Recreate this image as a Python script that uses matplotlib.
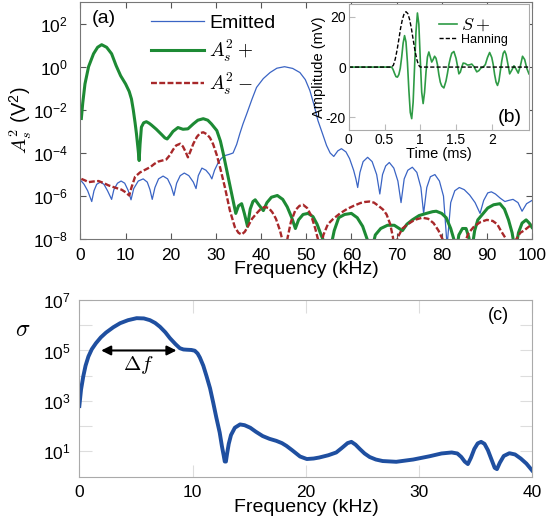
import numpy as np
import matplotlib
matplotlib.use('Agg')
import matplotlib.pyplot as plt
from matplotlib.ticker import NullLocator

plt.rcParams['font.family'] = ['Liberation Sans', 'DejaVu Sans']
plt.rcParams['mathtext.fontset'] = 'cm'
plt.rcParams['axes.unicode_minus'] = False

# ---- panel (a): spectra, values as log10(V^2) ----
emit_f = [0.2, 0.8, 1.6, 2.5, 3.0, 3.6, 4.4, 5.2, 6.0, 6.9, 7.4, 8.2, 9.0, 9.8, 10.6, 11.2,
          11.8, 12.8, 13.9, 14.8, 15.4, 15.9, 16.5, 17.3, 18.3, 19.3, 20.1, 20.7, 21.3, 22.1,
          23.0, 24.0, 25.0, 25.6, 26.1, 26.9, 27.8, 28.6, 29.1, 29.7, 30.5, 31.2, 32.0, 33.0,
          33.8, 34.6, 35.3, 36.0, 36.8, 38.0, 39.0, 40.5, 42.0, 43.5, 45.2, 47.0, 48.6, 49.8,
          50.8, 51.7, 52.6, 53.6, 54.5, 55.3, 56.1, 57.0, 57.8, 58.8, 59.6, 60.5, 61.0, 61.4,
          61.9, 62.6, 63.6, 64.6, 65.6, 66.3, 66.9, 67.6, 68.4, 69.4, 70.3, 71.0, 71.7, 72.5,
          73.5, 74.5, 75.4, 76.0, 76.7, 77.5, 78.5, 79.5, 80.4, 81.2, 82.0, 82.9, 83.9, 85.0,
          86.2, 87.4, 88.5, 89.3, 90.2, 91.0, 91.9, 93.0, 94.0, 94.8, 95.8, 96.9, 97.8, 98.8,
          100.0]
emit_lg = [-5.3, -5.45, -5.75, -6.25, -5.75, -5.45, -5.35, -5.45, -5.75, -6.15, -5.7, -5.4, -5.3, -5.4, -5.75, -6.17,
           -5.65, -5.3, -5.2, -5.35, -5.7, -6.15, -5.6, -5.2, -5.07, -5.2, -5.55, -5.97, -5.4, -5.05,
           -4.93, -5.05, -5.35, -5.65, -5.05, -4.7, -4.8, -5.0, -5.2, -4.8, -4.45, -4.25, -4.12, -4.06,
           -4.0, -3.6, -3.1, -2.65, -2.2, -1.5, -0.96, -0.55, -0.27, -0.07, 0.0, -0.08, -0.27, -0.6,
           -1.1, -1.75, -2.5, -3.1, -3.65, -4.0, -4.16, -3.9, -3.8, -3.95, -4.26, -4.8, -5.2, -5.6,
           -4.9, -4.4, -4.2, -4.4, -5.0, -5.9, -5.0, -4.6, -4.44, -4.7, -5.3, -6.3, -5.2, -4.8,
           -4.66, -4.9, -5.6, -6.8, -5.6, -5.1, -5.0, -5.3, -6.0, -8.3, -6.3, -5.75, -5.6, -5.7,
           -5.95, -6.3, -6.8, -6.2, -5.85, -5.8, -5.9, -6.1, -6.25, -6.2, -6.15, -6.3, -6.7, -6.35,
           -6.2]

plus_f = [0.2, 0.5, 1.0, 1.8, 2.9, 3.8, 4.7, 5.8, 6.9, 7.9, 8.9, 10.0, 10.8, 11.3, 11.7, 12.1,
          12.4, 12.8, 13.0, 13.2, 13.5, 14.0, 14.6, 15.2, 15.7, 16.8, 18.0, 18.7, 19.2, 19.8,
          20.5, 21.6, 22.7, 23.8, 25.0, 26.0, 27.2, 28.2, 29.0, 30.2, 31.0, 31.6, 32.7, 33.8,
          34.4, 35.0, 35.7, 36.3, 37.0, 37.6, 38.2, 38.7, 39.5, 40.5, 41.3, 42.3, 43.6, 44.8,
          45.8, 46.8, 47.6, 48.3, 49.3, 50.4, 51.5, 52.4, 53.3, 54.3, 55.2, 56.2, 57.2, 58.5,
          60.0, 61.3, 62.5, 63.5, 64.4, 65.3, 66.5, 68.0, 69.5, 70.6, 71.3, 72.3, 73.5, 75.0,
          76.6, 78.0, 78.8, 80.0, 81.0, 82.0, 82.7, 83.2, 83.8, 84.6, 85.4, 86.0, 86.6, 87.3,
          88.0, 89.0, 90.2, 91.5, 92.9, 93.9, 94.8, 95.6, 96.3, 97.0, 97.8, 98.7, 99.4, 100.0]
plus_lg = [-2.4, -1.7, -0.8, 0.0, 0.6, 0.9, 1.02, 0.9, 0.6, 0.05, -0.42, -0.8, -1.15, -1.5, -2.0, -2.6,
           -3.1, -3.9, -4.35, -3.6, -2.8, -2.6, -2.55, -2.62, -2.7, -2.9, -3.15, -3.3, -3.35, -3.2,
           -3.0, -2.82, -2.9, -2.88, -2.65, -2.48, -2.41, -2.48, -2.65, -2.96, -3.45, -4.0, -5.1, -6.2,
           -6.8, -6.45, -6.35, -6.8, -7.4, -6.6, -6.25, -6.17, -6.4, -6.67, -6.3, -6.05, -5.97, -6.15,
           -6.5, -7.0, -7.5, -7.1, -6.85, -6.8, -6.95, -7.3, -7.8, -8.3, -8.6, -7.6, -7.0, -6.85,
           -6.8, -7.0, -7.4, -8.0, -8.6, -7.8, -7.5, -7.35, -7.35, -7.5, -7.6, -7.3, -7.1, -6.9,
           -6.8, -6.72, -6.7, -6.8, -7.0, -7.5, -8.0, -8.6, -7.8, -7.5, -7.5, -7.9, -8.6, -7.6,
           -7.1, -6.85, -6.55, -6.4, -6.35, -6.6, -7.1, -7.7, -8.6, -7.7, -7.25, -7.1, -7.25, -7.45]

minus_f = [0.2, 1.0, 1.8, 2.9, 4.0, 5.0, 6.2, 7.6, 9.1, 10.0, 10.8, 11.3, 12.1, 13.2, 14.3, 15.5,
           16.4, 17.2, 18.1, 19.0, 19.8, 20.5, 21.2, 22.1, 22.7, 23.3, 23.8, 24.3, 25.0, 25.8,
           26.5, 27.2, 28.0, 28.7, 29.4, 30.2, 30.9, 32.0, 33.1, 34.2, 35.0, 35.7, 36.4, 37.1,
           38.0, 39.0, 39.9, 40.8, 41.7, 42.5, 43.3, 44.2, 44.8, 45.3, 45.9, 46.6, 47.6, 48.5,
           49.3, 50.2, 51.1, 52.0, 52.6, 53.0, 53.8, 54.8, 56.0, 57.5, 59.0, 60.5, 62.0, 63.0,
           64.0, 65.0, 66.0, 67.0, 67.8, 68.6, 69.2, 69.6, 70.3, 71.3, 72.5, 74.0, 75.7, 77.0,
           78.2, 79.3, 80.2, 80.9, 84.5, 85.2, 86.0, 87.2, 88.6, 90.0, 91.3, 92.3, 93.1, 94.3,
           95.5, 96.5, 97.4, 98.2, 99.1, 100.0]
minus_lg = [-5.2, -5.27, -5.35, -5.32, -5.3, -5.38, -5.5, -5.6, -5.7, -5.82, -5.97, -5.6, -5.1, -4.9, -4.78, -4.65,
            -4.5, -4.4, -4.35, -4.3, -4.1, -3.85, -3.65, -3.57, -3.7, -3.95, -4.2, -3.95, -3.57, -3.25,
            -3.08, -3.04, -3.13, -3.3, -3.6, -4.1, -4.65, -5.6, -6.67, -7.44, -7.7, -7.78, -7.65, -7.4,
            -7.05, -6.8, -6.6, -6.5, -6.55, -6.75, -7.05, -7.6, -8.1, -8.6, -7.9, -7.2, -6.65, -6.45,
            -6.4, -6.55, -6.9, -7.5, -8.0, -8.6, -7.8, -7.3, -7.05, -6.8, -6.6, -6.45, -6.32, -6.27,
            -6.25, -6.3, -6.45, -6.62, -6.85, -7.3, -7.9, -8.6, -7.9, -7.5, -7.3, -7.1, -7.0, -7.05,
            -7.25, -7.6, -8.0, -8.6, -8.6, -8.1, -7.7, -7.4, -7.2, -7.1, -7.15, -7.3, -7.6, -8.0,
            -8.6, -8.0, -7.7, -7.6, -7.45, -7.3]

# ---- inset (b): time signals, mV ----
sig_t = [0, 0.6, 0.62, 0.64, 0.66, 0.68, 0.70, 0.72, 0.74, 0.76, 0.78, 0.80, 0.82, 0.84, 0.86,
         0.88, 0.90, 0.92, 0.94, 0.96, 0.98, 1.00, 1.02, 1.04, 1.06, 1.08, 1.10, 1.12, 1.14,
         1.16, 1.18, 1.20, 1.22, 1.24, 1.26, 1.28, 1.30, 1.33, 1.36, 1.38, 1.40, 1.42, 1.44,
         1.47, 1.50, 1.52, 1.54, 1.56, 1.58, 1.60, 1.63, 1.66, 1.69, 1.72, 1.75, 1.79, 1.82,
         1.85, 1.88, 1.91, 1.94, 1.97, 2.00, 2.02, 2.04, 2.06, 2.08, 2.10, 2.12, 2.14, 2.16,
         2.18, 2.20, 2.22, 2.25, 2.28, 2.31, 2.34, 2.37, 2.40, 2.43, 2.46, 2.49, 2.52]
sig_a = [0, 0, -1, -2.5, -3.8, -4, -3, -0.5, 4, 9.5, 12.5, 10, 2, -9, -18,
         -20.5, -14, 0, 14, 21.5, 17, 3, -10, -14.5, -10, -2, 4, 6, 4,
         2, 3, 4.3, 3.5, 1, -3, -6, -7.5, -8.3, -5.5, -2.5, 1, 3.5, 5.5,
         6.2, 3.5, 0.5, -2.7, -2, 0, 1.6, 1.4, 0.8, 0.9, 1.2, 0.2, -1.9, -1.4,
         -0.3, 0, 1, 3.8, 5.8, 3.8, 1, -3, -6, -7.3, -5.5, -1.5, 2.5, 5.5,
         6.4, 5, 2, -2.7, -1.2, 0.5, -0.8, -2.4, 0.5, 4.3, 3, -0.5, -2.7]
han_t = [0, 0.6, 0.625, 0.65, 0.675, 0.7, 0.725, 0.75, 0.775, 0.8, 0.825, 0.85, 0.875, 0.9,
         0.925, 0.95, 0.975, 1.0, 2.52]
han_a = [0, 0, 0.8, 3.2, 6.7, 11, 15.5, 19, 21.3, 22, 21.3, 19, 15.5, 11,
         6.7, 3.2, 0.8, 0, 0]

# ---- panel (c): sigma, log10 ----
sig_f = [0, 0.15, 0.35, 0.55, 0.8, 1.1, 1.47, 1.9, 2.36, 3.0, 3.6, 4.3, 5.06, 5.7, 6.24, 6.7,
         7.12, 7.6, 8.0, 8.5, 8.88, 9.2, 9.5, 9.9, 10.2, 10.45, 10.65, 10.95, 11.24, 11.55,
         11.83, 12.1, 12.4, 12.6, 12.75, 12.85, 12.95, 13.05, 13.2, 13.4, 13.74, 14.2, 14.6,
         15.1, 15.6, 16.2, 16.8, 17.4, 17.9, 18.3, 18.8, 19.5, 20.1, 20.7, 21.2, 22.0, 22.7,
         23.2, 23.7, 24.04, 24.4, 24.8, 25.2, 25.65, 26.2, 26.8, 28.0, 29.5, 30.95, 32.0, 32.9,
         33.4, 33.75, 34.05, 34.33, 34.6, 34.9, 35.2, 35.5, 35.8, 36.1, 36.4, 36.7, 36.9, 37.15,
         37.5, 38.0, 38.5, 39.0, 39.5, 40.0]
sig_lg = [2.8, 3.45, 3.98, 4.4, 4.76, 5.05, 5.29, 5.52, 5.71, 5.92, 6.08, 6.2, 6.28, 6.27, 6.2, 6.09,
          5.94, 5.72, 5.49, 5.25, 5.09, 5.04, 5.03, 5.02, 4.99, 4.88, 4.72, 4.4, 3.98, 3.5,
          2.93, 2.35, 1.75, 1.2, 0.85, 0.6, 0.6, 0.9, 1.3, 1.65, 1.94, 2.07, 2.04,
          1.94, 1.78, 1.61, 1.5, 1.42, 1.33, 1.22, 1.05, 0.8, 0.7, 0.72, 0.76, 0.85, 0.96,
          1.14, 1.33, 1.38, 1.27, 1.09, 0.92, 0.78, 0.68, 0.62, 0.59, 0.68, 0.81, 0.92, 0.96,
          0.92, 0.78, 0.6, 0.5, 0.75, 1.1, 1.32, 1.38, 1.3, 1.05, 0.7, 0.35, 0.3, 0.55,
          0.82, 0.93, 0.88, 0.72, 0.52, 0.25]

fig = plt.figure(figsize=(5.51, 5.22), dpi=100)

# panel (a)
ax = fig.add_axes([0.146, 0.5416, 0.8195, 0.4546])
ax.plot(emit_f, 10.0 ** np.array(emit_lg), color='#3a64c4', lw=0.9, label='Emitted')
ax.plot(plus_f, 10.0 ** np.array(plus_lg), color='#1d8a34', lw=2.2, label=r'$A_s^2+$')
ax.plot(minus_f, 10.0 ** np.array(minus_lg), color='#a8282a', lw=1.7, ls=(0, (2.5, 1)),
        label=r'$A_s^2-$')
ax.set_yscale('log')
ax.set_xlim(0, 100)
ax.set_ylim(1e-8, 1e3)
ax.set_xticks(range(0, 101, 10))
ax.set_yticks([1e-8, 1e-6, 1e-4, 1e-2, 1e0, 1e2])
ax.yaxis.set_minor_locator(NullLocator())
ax.tick_params(direction='in', length=4, color='#555555', labelsize=12.5, top=True, right=True)
ax.tick_params(axis='y', pad=9)
ax.tick_params(axis='x', pad=6)
for s in ax.spines.values():
    s.set_color('#777777')
leg = ax.legend(loc='upper left', bbox_to_anchor=(0.135, 0.99), frameon=False, fontsize=14,
                handlelength=2.7, handletextpad=0.3, labelspacing=0.32, borderpad=0)
ax.text(0.025, 0.93, '(a)', transform=ax.transAxes, fontsize=14, va='center')
fig.text(21 / 551, 1 - 120 / 522, r'$A_s^2$ ($\mathregular{V^2}$)', rotation=90, fontsize=14.5,
         ha='center', va='center')
fig.text(306 / 551, 1 - 270 / 522, 'Frequency (kHz)', fontsize=14, ha='center', va='center')

# inset (b)
axi = fig.add_axes([0.633, 0.751, 0.327, 0.241])
axi.plot(sig_t, sig_a, color='#2e9b45', lw=1.2, label=r'$S+$')
axi.plot(han_t, han_a, color='k', lw=1.0, ls=(0, (3, 1.5)), label='Hanning')
axi.set_xlim(0, 2.52)
axi.set_ylim(-25, 25)
axi.set_xticks([0, 0.5, 1, 1.5, 2])
axi.set_xticklabels(['0', '0.5', '1', '1.5', '2'])
axi.set_yticks([-20, 0, 20])
axi.tick_params(direction='in', length=4, color='#bbbbbb', labelsize=10, pad=2)
for s in axi.spines.values():
    s.set_color('#aaaaaa')
axi.set_xlabel('Time (ms)', fontsize=10.5, labelpad=0)
axi.set_ylabel('Amplitude (mV)', fontsize=10.5, labelpad=0)
lg2 = axi.legend(loc='upper left', bbox_to_anchor=(0.46, 0.96), frameon=False,
                 handlelength=1.3, handletextpad=0.3, labelspacing=0.0, borderpad=0)
lg2.get_texts()[0].set_fontsize(13)
lg2.get_texts()[1].set_fontsize(9)
axi.text(0.96, 0.1, '(b)', transform=axi.transAxes, fontsize=14, ha='right', va='center')

# panel (c)
axc = fig.add_axes([0.144, 0.0868, 0.8216, 0.3385])
axc.plot(sig_f, 10.0 ** np.array(sig_lg), color='#1f4fa0', lw=2.8)
axc.set_yscale('log')
axc.set_xlim(0, 40)
axc.set_ylim(1, 1e7)
axc.set_xticks([0, 10, 20, 30, 40])
dec = [10.0 ** k for k in range(1, 8)]
axc.set_yticks(dec)
axc.set_yticklabels([r'$\mathdefault{10^{%d}}$' % k if k % 2 else '' for k in range(1, 8)])
axc.yaxis.set_minor_locator(NullLocator())
axc.tick_params(direction='in', length=9, color='#dddddd', labelsize=12.5, top=True, right=True)
axc.tick_params(axis='x', pad=6)
axc.tick_params(axis='y', pad=6)
for s in axc.spines.values():
    s.set_color('#aaaaaa')
axc.annotate('', xy=(1.68, 1e5), xytext=(8.83, 1e5),
             arrowprops=dict(arrowstyle='<|-|>', color='k', lw=1.5, mutation_scale=14))
axc.text(5.2, 10 ** 4.44, r'$\Delta f$', fontsize=15, ha='center', va='center')
axc.text(37.0, 10 ** 6.4, '(c)', fontsize=13, ha='center', va='center')
fig.text(23 / 551, 1 - 330 / 522, r'$\sigma$', fontsize=17, ha='center', va='center')
fig.text(306 / 551, 1 - 508 / 522, 'Frequency (kHz)', fontsize=14, ha='center', va='center')

fig.savefig('out.png', dpi=100)
